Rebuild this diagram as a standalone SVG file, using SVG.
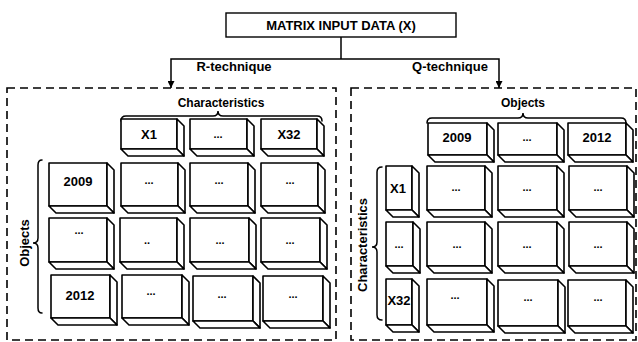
<svg xmlns="http://www.w3.org/2000/svg" width="638" height="342" viewBox="0 0 638 342">
<style>
.bg{fill:#fff}
.blk rect,.blk path{fill:#fff;stroke:#000;stroke-width:1.6;stroke-linejoin:round}
.frame{fill:none;stroke:#000;stroke-width:1.6;stroke-dasharray:8 5}
.box{fill:#fff;stroke:#000;stroke-width:1.4}
.ln{fill:none;stroke:#000;stroke-width:1.5}
.br{fill:none;stroke:#000;stroke-width:1.5;stroke-linecap:round}
text{font-family:"Liberation Sans",Arial,sans-serif;font-weight:bold;fill:#000;text-anchor:middle}
.t13{font-size:13px}
.t12{font-size:12px}
.lb{font-size:13px}
.d{font-size:11px}
</style>
<defs>
<marker id="ah" viewBox="0 0 10 10" refX="10" refY="5" markerWidth="7" markerHeight="7" markerUnits="userSpaceOnUse" orient="auto">
<path d="M0,0 L10,5 L0,10 z" fill="#000"/>
</marker>
</defs>
<rect class="bg" x="0" y="0" width="638" height="342"/>

<g id="title">
<rect class="box" x="226" y="13" width="230" height="24"/>
<text class="t13" x="341" y="30">MATRIX INPUT DATA (X)</text>
</g>

<g id="connectors">
<path class="ln" d="M341 37 V59"/>
<path class="ln" d="M341 59 H171 V88" marker-end="url(#ah)"/>
<path class="ln" d="M341 59 H499 V88" marker-end="url(#ah)"/>
<text class="t13" x="234" y="71">R-technique</text>
<text class="t13" x="450" y="71">Q-technique</text>
</g>

<g id="r-panel">
<rect class="frame" x="7" y="88" width="329" height="252"/>
<text class="t12" x="221" y="107">Characteristics</text>
<path class="br" d="M121 121 Q121 116 126 116 L213 116 Q218 116 218 111 Q218 116 223 116 L317 116 Q322 116 322 121"/>
<path class="br" d="M42 160 Q38 160 38 165 L38 238 Q38 243 33 243 Q38 243 38 248 L38 308 Q38 313 42 313"/>
<text class="t13" transform="translate(24,243) rotate(-90)" y="4.5">Objects</text>
</g>

<g id="r-x1" class="blk"><rect x="121" y="119" width="56" height="30"/><path d="M177 119 l7 7 v30 l-7 -7 z"/><path d="M121 149 h56 l7 7 h-56 z"/><text class="lb" x="149" y="139">X1</text></g>
<g id="r-xdots" class="blk"><rect x="190" y="119" width="57" height="30"/><path d="M247 119 l7 7 v30 l-7 -7 z"/><path d="M190 149 h57 l7 7 h-57 z"/><text class="d" x="218" y="138">...</text></g>
<g id="r-x32" class="blk"><rect x="261" y="119" width="56" height="30"/><path d="M317 119 l7 7 v30 l-7 -7 z"/><path d="M261 149 h56 l7 7 h-56 z"/><text class="lb" x="289" y="139">X32</text></g>

<g id="r-2009" class="blk"><rect x="49" y="163" width="58" height="43"/><path d="M107 163 l7 7 v43 l-7 -7 z"/><path d="M49 206 h58 l7 7 h-58 z"/><text class="lb" x="78" y="186">2009</text></g>
<g id="r-c11" class="blk"><rect x="121" y="163" width="57" height="43"/><path d="M178 163 l7 7 v43 l-7 -7 z"/><path d="M121 206 h57 l7 7 h-57 z"/><text class="d" x="149" y="184">...</text></g>
<g id="r-c12" class="blk"><rect x="190" y="163" width="58" height="43"/><path d="M248 163 l7 7 v43 l-7 -7 z"/><path d="M190 206 h58 l7 7 h-58 z"/><text class="d" x="219" y="184">...</text></g>
<g id="r-c13" class="blk"><rect x="261" y="163" width="57" height="43"/><path d="M318 163 l7 7 v43 l-7 -7 z"/><path d="M261 206 h57 l7 7 h-57 z"/><text class="d" x="290" y="184">...</text></g>

<g id="r-odots" class="blk"><rect x="49" y="218" width="58" height="44"/><path d="M107 218 l7 7 v44 l-7 -7 z"/><path d="M49 262 h58 l7 7 h-58 z"/><text class="d" x="79" y="234">...</text></g>
<g id="r-c21" class="blk"><rect x="120" y="218" width="57" height="44"/><path d="M177 218 l7 7 v44 l-7 -7 z"/><path d="M120 262 h57 l7 7 h-57 z"/><text class="d" x="147" y="244">..</text></g>
<g id="r-c22" class="blk"><rect x="190" y="218" width="59" height="44"/><path d="M249 218 l7 7 v44 l-7 -7 z"/><path d="M190 262 h59 l7 7 h-59 z"/><text class="d" x="220" y="244">...</text></g>
<g id="r-c23" class="blk"><rect x="261" y="218" width="59" height="44"/><path d="M320 218 l7 7 v44 l-7 -7 z"/><path d="M261 262 h59 l7 7 h-59 z"/><text class="d" x="290" y="244">...</text></g>

<g id="r-2012" class="blk"><rect x="51" y="275" width="59" height="43"/><path d="M110 275 l7 7 v43 l-7 -7 z"/><path d="M51 318 h59 l7 7 h-59 z"/><text class="lb" x="80" y="300">2012</text></g>
<g id="r-c31" class="blk"><rect x="122" y="275" width="60" height="43"/><path d="M182 275 l7 7 v43 l-7 -7 z"/><path d="M122 318 h60 l7 7 h-60 z"/><text class="d" x="151" y="295">...</text></g>
<g id="r-c32" class="blk"><rect x="193" y="276" width="60" height="45"/><path d="M253 276 l7 7 v45 l-7 -7 z"/><path d="M193 321 h60 l7 7 h-60 z"/><text class="d" x="222" y="298">...</text></g>
<g id="r-c33" class="blk"><rect x="263" y="276" width="60" height="45"/><path d="M323 276 l7 7 v45 l-7 -7 z"/><path d="M263 321 h60 l7 7 h-60 z"/><text class="d" x="293" y="298">...</text></g>

<g id="q-panel">
<rect class="frame" x="351" y="88" width="285" height="252"/>
<text class="t12" x="523" y="107">Objects</text>
<path class="br" d="M427 123 Q427 118 432 118 L518 118 Q523 118 523 113 Q523 118 528 118 L621 118 Q626 118 626 123"/>
<path class="br" d="M382 167 Q377 167 377 172 L377 242 Q377 247 372 247 Q377 247 377 252 L377 315 Q377 320 382 320"/>
<text class="t13" transform="translate(362,245) rotate(-90)" y="4.5">Characteristics</text>
</g>

<g id="q-2009" class="blk"><rect x="428" y="123" width="59" height="32"/><path d="M487 123 l7 7 v32 l-7 -7 z"/><path d="M428 155 h59 l7 7 h-59 z"/><text class="lb" x="457" y="142">2009</text></g>
<g id="q-odots" class="blk"><rect x="498" y="123" width="59" height="32"/><path d="M557 123 l7 7 v32 l-7 -7 z"/><path d="M498 155 h59 l7 7 h-59 z"/><text class="d" x="527" y="141">...</text></g>
<g id="q-2012" class="blk"><rect x="568" y="123" width="58" height="32"/><path d="M626 123 l7 7 v32 l-7 -7 z"/><path d="M568 155 h58 l7 7 h-58 z"/><text class="lb" x="597" y="142">2012</text></g>

<g id="q-x1" class="blk"><rect x="386" y="166" width="26" height="44"/><path d="M412 166 l7 7 v44 l-7 -7 z"/><path d="M386 210 h26 l7 7 h-26 z"/><text class="lb" x="398" y="193">X1</text></g>
<g id="q-c11" class="blk"><rect x="427" y="166" width="58" height="44"/><path d="M485 166 l7 7 v44 l-7 -7 z"/><path d="M427 210 h58 l7 7 h-58 z"/><text class="d" x="456" y="191">...</text></g>
<g id="q-c12" class="blk"><rect x="498" y="166" width="59" height="44"/><path d="M557 166 l7 7 v44 l-7 -7 z"/><path d="M498 210 h59 l7 7 h-59 z"/><text class="d" x="527" y="191">...</text></g>
<g id="q-c13" class="blk"><rect x="569" y="166" width="58" height="44"/><path d="M627 166 l7 7 v44 l-7 -7 z"/><path d="M569 210 h58 l7 7 h-58 z"/><text class="d" x="598" y="191">...</text></g>

<g id="q-xdots" class="blk"><rect x="386" y="222" width="27" height="44"/><path d="M413 222 l7 7 v44 l-7 -7 z"/><path d="M386 266 h27 l7 7 h-27 z"/><text class="d" x="399" y="248">...</text></g>
<g id="q-c21" class="blk"><rect x="427" y="222" width="58" height="44"/><path d="M485 222 l7 7 v44 l-7 -7 z"/><path d="M427 266 h58 l7 7 h-58 z"/><text class="d" x="457" y="248">...</text></g>
<g id="q-c22" class="blk"><rect x="498" y="222" width="59" height="44"/><path d="M557 222 l7 7 v44 l-7 -7 z"/><path d="M498 266 h59 l7 7 h-59 z"/><text class="d" x="527" y="248">...</text></g>
<g id="q-c23" class="blk"><rect x="569" y="222" width="58" height="44"/><path d="M627 222 l7 7 v44 l-7 -7 z"/><path d="M569 266 h58 l7 7 h-58 z"/><text class="d" x="598" y="248">...</text></g>

<g id="q-x32" class="blk"><rect x="386" y="279" width="26" height="46"/><path d="M412 279 l7 7 v46 l-7 -7 z"/><path d="M386 325 h26 l7 7 h-26 z"/><text class="lb" x="399" y="305">X32</text></g>
<g id="q-c31" class="blk"><rect x="427" y="279" width="60" height="46"/><path d="M487 279 l7 7 v46 l-7 -7 z"/><path d="M427 325 h60 l7 7 h-60 z"/><text class="d" x="455" y="299">...</text></g>
<g id="q-c32" class="blk"><rect x="498" y="280" width="60" height="46"/><path d="M558 280 l7 7 v46 l-7 -7 z"/><path d="M498 326 h60 l7 7 h-60 z"/><text class="d" x="528" y="301">...</text></g>
<g id="q-c33" class="blk"><rect x="568" y="280" width="58" height="46"/><path d="M626 280 l7 7 v46 l-7 -7 z"/><path d="M568 326 h58 l7 7 h-58 z"/><text class="d" x="598" y="301">...</text></g>
</svg>
